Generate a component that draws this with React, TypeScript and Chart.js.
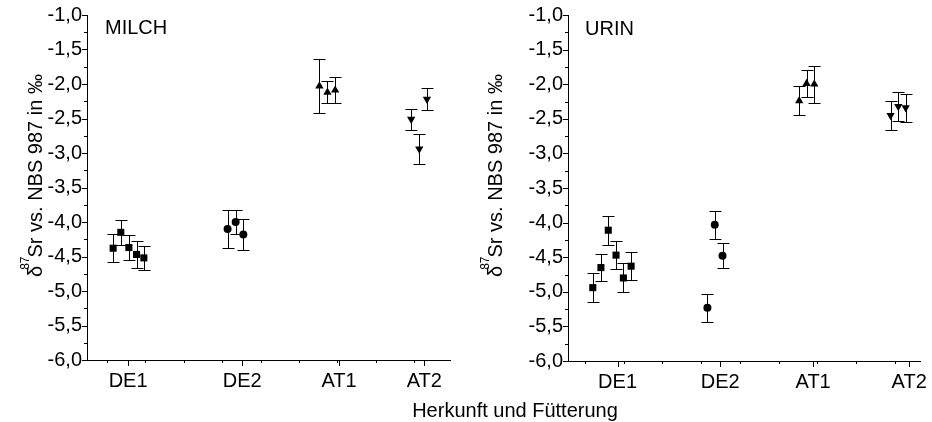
import React, { useEffect, useRef } from 'react';
import { Chart, registerables } from 'chart.js';

Chart.register(...registerables);

const FONT = '"Liberation Sans", Arial, Helvetica, sans-serif';

// ---------- shared axis data ----------
const categories = ['DE1', 'DE2', 'AT1', 'AT2'];
const yMin = -6;
const yMax = -1;
const yStep = 0.5;
const yMinorTicks = [-5.75, -5.25, -4.75, -4.25, -3.75, -3.25, -2.75, -2.25, -1.75, -1.25];
const xMinorTicks = [1, 2, 3, 4, 5, 6, 7, 8, 9];
const xAxisTitle = 'Herkunft und Fütterung';
const yTitleMain = 'Sr vs. NBS 987 in ‰';
const yTitleSup = '87';
const yTitleSymbol = 'δ';

// ---------- MILCH panel ----------
const milchLabel = 'MILCH';
const milchXRange = [0.48, 9.93];
const milchCatPos = [1.55, 4.52, 7.04, 9.26];

const milchDE1x = [1.16, 1.36, 1.57, 1.77, 1.96];
const milchDE1y = [-4.38, -4.15, -4.37, -4.47, -4.52];
const milchDE1e = [0.2, 0.18, 0.18, 0.19, 0.17];

const milchDE2x = [4.14, 4.35, 4.55];
const milchDE2y = [-4.1, -4.0, -4.18];
const milchDE2e = [0.27, 0.18, 0.23];

const milchAT1x = [6.53, 6.74, 6.94];
const milchAT1y = [-2.03, -2.12, -2.09];
const milchAT1e = [0.39, 0.16, 0.19];

const milchAT2x = [8.92, 9.13, 9.33];
const milchAT2y = [-2.51, -2.94, -2.22];
const milchAT2e = [0.15, 0.22, 0.16];

// ---------- URIN panel ----------
const urinLabel = 'URIN';
const urinXRange = [0.56, 9.65];
const urinCatPos = [1.84, 4.49, 6.89, 9.37];

const urinDE1x = [1.2, 1.41, 1.6, 1.8, 1.99, 2.19];
const urinDE1y = [-4.94, -4.65, -4.11, -4.47, -4.8, -4.63];
const urinDE1e = [0.21, 0.19, 0.21, 0.2, 0.21, 0.2];

const urinDE2x = [4.16, 4.35, 4.55];
const urinDE2y = [-5.23, -4.03, -4.48];
const urinDE2e = [0.2, 0.2, 0.18];

const urinAT1x = [6.53, 6.72, 6.92];
const urinAT1y = [-2.24, -1.99, -2.0];
const urinAT1e = [0.21, 0.19, 0.27];

const urinAT2x = [8.89, 9.09, 9.28];
const urinAT2y = [-2.45, -2.32, -2.34];
const urinAT2e = [0.21, 0.21, 0.2];

// ---------- helpers ----------
function series(xs: number[], ys: number[], es: number[], style: string, radius: number, rotation = 0) {
  return {
    data: xs.map((x, i) => ({ x, y: ys[i] })),
    errors: es,
    pointStyle: style,
    pointRadius: radius,
    pointRotation: rotation,
    backgroundColor: '#000',
    borderColor: '#000',
    borderWidth: 0,
    showLine: false,
  };
}

const decoPlugin = {
  id: 'deco',
  beforeDatasetsDraw(chart: any) {
    const ctx = chart.ctx;
    const xs = chart.scales.x;
    const ys = chart.scales.y;
    ctx.save();
    ctx.strokeStyle = '#000';
    ctx.lineWidth = 1;
    ctx.beginPath();
    chart.data.datasets.forEach((ds: any) => {
      ds.data.forEach((p: any, i: number) => {
        const e = ds.errors[i];
        const px = Math.round(xs.getPixelForValue(p.x)) + 0.5;
        const top = Math.round(ys.getPixelForValue(p.y + e)) + 0.5;
        const bot = Math.round(ys.getPixelForValue(p.y - e)) + 0.5;
        ctx.moveTo(px, top);
        ctx.lineTo(px, bot);
        ctx.moveTo(px - 6, top);
        ctx.lineTo(px + 6, top);
        ctx.moveTo(px - 6, bot);
        ctx.lineTo(px + 6, bot);
      });
    });
    ctx.stroke();
    ctx.restore();
  },
  afterDraw(chart: any, _args: any, opts: any) {
    const ctx = chart.ctx;
    const xs = chart.scales.x;
    const ys = chart.scales.y;
    const area = chart.chartArea;
    ctx.save();
    ctx.strokeStyle = '#000';
    ctx.lineWidth = 1;
    ctx.beginPath();
    // y ticks
    for (let v = yMin; v <= yMax + 1e-9; v += yStep) {
      const py = Math.round(ys.getPixelForValue(v)) + 0.5;
      ctx.moveTo(area.left - 5, py);
      ctx.lineTo(area.left, py);
    }
    yMinorTicks.forEach((v) => {
      const py = Math.round(ys.getPixelForValue(v)) + 0.5;
      ctx.moveTo(area.left - 3, py);
      ctx.lineTo(area.left, py);
    });
    // x ticks
    opts.catPos.forEach((v: number) => {
      const px = Math.round(xs.getPixelForValue(v)) + 0.5;
      ctx.moveTo(px, area.bottom);
      ctx.lineTo(px, area.bottom + 6);
    });
    xMinorTicks.forEach((v) => {
      const px = Math.round(xs.getPixelForValue(v)) + 0.5;
      ctx.moveTo(px, area.bottom);
      ctx.lineTo(px, area.bottom + 3);
    });
    ctx.stroke();

    // panel label
    ctx.fillStyle = '#000';
    ctx.font = `20px ${FONT}`;
    ctx.textAlign = 'left';
    ctx.textBaseline = 'alphabetic';
    ctx.fillText(opts.label, opts.labelX, opts.labelY);

    // y title (rotated)
    ctx.translate(opts.titleX, opts.titleY);
    ctx.rotate(-Math.PI / 2);
    ctx.font = `20px ${FONT}`;
    ctx.fillText(yTitleSymbol, 0, 0);
    let off = ctx.measureText(yTitleSymbol).width - 4;
    ctx.font = `12px ${FONT}`;
    ctx.fillText(yTitleSup, off, -13);
    off += ctx.measureText(yTitleSup).width - 1;
    ctx.font = `20px ${FONT}`;
    ctx.fillText(yTitleMain, off, 0);
    ctx.restore();
  },
};

function makeConfig(p: any) {
  return {
    type: 'scatter',
    data: { datasets: p.datasets },
    plugins: [decoPlugin],
    options: {
      responsive: false,
      animation: false,
      events: [],
      layout: { padding: { left: 0, right: p.padRight, top: 15, bottom: 0 } },
      plugins: {
        legend: { display: false },
        tooltip: { enabled: false },
        deco: {
          catPos: p.catPos,
          label: p.label,
          labelX: p.labelX,
          labelY: p.labelY,
          titleX: p.titleX,
          titleY: 277,
        },
      },
      scales: {
        x: {
          type: 'linear',
          min: p.xRange[0],
          max: p.xRange[1],
          afterBuildTicks: (scale: any) => {
            scale.ticks = p.catPos.map((v: number) => ({ value: v }));
          },
          afterFit: (scale: any) => {
            scale.height = p.xAxisHeight;
          },
          ticks: {
            autoSkip: false,
            maxRotation: 0,
            minRotation: 0,
            padding: 3,
            color: '#000',
            font: { family: FONT, size: 20 },
            callback: (_v: any, i: number) => categories[i],
          },
          grid: { drawOnChartArea: false, drawTicks: true, tickLength: 6, tickColor: 'rgba(0,0,0,0)' },
          border: { display: true, color: '#000', width: 1 },
        },
        y: {
          type: 'linear',
          min: yMin,
          max: yMax,
          afterFit: (scale: any) => {
            scale.width = p.yAxisWidth;
          },
          ticks: {
            stepSize: yStep,
            padding: 0,
            color: '#000',
            font: { family: FONT, size: 20 },
            callback: (v: number) => v.toFixed(1).replace('.', ','),
          },
          grid: { drawOnChartArea: false, drawTicks: true, tickLength: 5, tickColor: 'rgba(0,0,0,0)' },
          border: { display: true, color: '#000', width: 1 },
        },
      },
    },
  };
}

const milchPanel = {
  label: milchLabel,
  labelX: 105,
  labelY: 34,
  titleX: 42,
  xRange: milchXRange,
  catPos: milchCatPos,
  padRight: 16,
  yAxisWidth: 87,
  xAxisHeight: 62,
  datasets: [
    series(milchDE1x, milchDE1y, milchDE1e, 'rect', 5),
    series(milchDE2x, milchDE2y, milchDE2e, 'circle', 4),
    series(milchAT1x, milchAT1y, milchAT1e, 'triangle', 4.8),
    series(milchAT2x, milchAT2y, milchAT2e, 'triangle', 4.8, 180),
  ],
};

const urinPanel = {
  label: urinLabel,
  labelX: 119,
  labelY: 35,
  titleX: 36,
  xRange: urinXRange,
  catPos: urinCatPos,
  padRight: 12,
  yAxisWidth: 102,
  xAxisHeight: 61,
  datasets: [
    series(urinDE1x, urinDE1y, urinDE1e, 'rect', 5),
    series(urinDE2x, urinDE2y, urinDE2e, 'circle', 4),
    series(urinAT1x, urinAT1y, urinAT1e, 'triangle', 4.8),
    series(urinAT2x, urinAT2y, urinAT2e, 'triangle', 4.8, 180),
  ],
};

function Panel({ panel, left }: { panel: any; left: number }) {
  const ref = useRef<HTMLCanvasElement>(null);
  useEffect(() => {
    if (!ref.current) return;
    const chart = new Chart(ref.current, makeConfig(panel) as any);
    return () => chart.destroy();
  }, [panel]);
  return (
    <canvas
      ref={ref}
      width={466}
      height={422}
      style={{ position: 'absolute', left, top: 0, width: 466, height: 422 }}
    />
  );
}

export default function App() {
  return (
    <div style={{ position: 'absolute', left: 0, top: 0, width: 932, height: 422, background: '#fff', overflow: 'hidden' }}>
      <Panel panel={milchPanel} left={0} />
      <Panel panel={urinPanel} left={466} />
      <div
        style={{
          position: 'absolute',
          left: 315,
          width: 400,
          top: 400,
          textAlign: 'center',
          fontFamily: FONT,
          fontSize: 20,
          lineHeight: '20px',
          color: '#000',
          whiteSpace: 'nowrap',
        }}
      >
        {xAxisTitle}
      </div>
    </div>
  );
}
